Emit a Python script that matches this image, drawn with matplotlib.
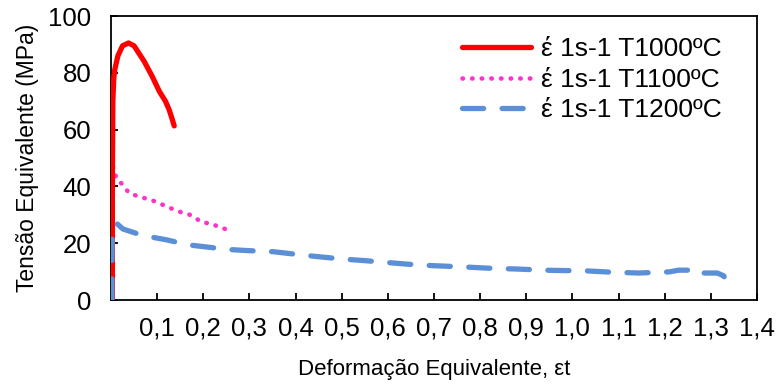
import matplotlib
matplotlib.use("Agg")
import matplotlib.pyplot as plt

plt.rcParams['font.family'] = ['Liberation Sans', 'DejaVu Sans']

# curva a 1000 C
x_1000 = [0.003, 0.003, 0.004, 0.006, 0.008, 0.015, 0.025, 0.038, 0.050,
          0.072, 0.090, 0.105, 0.118, 0.126, 0.132, 0.137]
y_1000 = [0.0, 40.0, 70.0, 78.0, 81.0, 86.0, 89.5, 90.5, 89.5,
          84.0, 78.5, 73.4, 70.0, 67.0, 64.0, 61.3]

# curva a 1100 C
x_1100 = [0.004, 0.008, 0.012, 0.023, 0.040, 0.060, 0.092, 0.120, 0.144,
          0.175, 0.196, 0.220, 0.234, 0.248, 0.256]
y_1100 = [47.0, 45.0, 42.5, 41.0, 37.5, 36.5, 34.9, 33.0, 31.3,
          29.8, 27.4, 26.8, 25.6, 25.0, 22.5]

# curva a 1200 C
x_1200 = [0.002, 0.002, 0.003, 0.012, 0.026, 0.069, 0.120, 0.168, 0.200,
          0.253, 0.295, 0.352, 0.390, 0.440, 0.503, 0.555, 0.583, 0.644,
          0.696, 0.757, 0.818, 0.880, 0.940, 0.965, 1.026, 1.083, 1.144,
          1.210, 1.230, 1.267, 1.270, 1.314, 1.328, 1.336]
y_1200 = [0.0, 15.0, 25.0, 27.0, 25.0, 22.7, 21.2, 19.4, 18.8,
          17.8, 17.4, 17.0, 16.3, 15.4, 14.4, 13.8, 13.4, 12.6,
          12.1, 11.7, 11.2, 10.9, 10.5, 10.4, 10.3, 9.8, 9.5,
          9.9, 10.5, 10.5, 9.5, 9.5, 8.5, 5.8]

x_ticks = [0.1, 0.2, 0.3, 0.4, 0.5, 0.6, 0.7, 0.8, 0.9, 1.0, 1.1, 1.2, 1.3, 1.4]
x_tick_labels = ['0,1', '0,2', '0,3', '0,4', '0,5', '0,6', '0,7', '0,8',
                 '0,9', '1,0', '1,1', '1,2', '1,3', '1,4']
y_ticks = [0, 20, 40, 60, 80, 100]

labels = ['έ 1s-1 T1000ºC', 'έ 1s-1 T1100ºC', 'έ 1s-1 T1200ºC']

fig = plt.figure(figsize=(7.77, 3.85), dpi=100)
# box from x=111..757 px, y=16..300 px
ax = fig.add_axes([111 / 777, 85 / 385, 646 / 777, 284 / 385])

ax.plot(x_1000, y_1000, color='#FF0000', lw=3.8, solid_capstyle='round',
        label=labels[0], zorder=3)
ax.plot(x_1100, y_1100, color='#FF33CC', lw=3.3, linestyle=(0, (0.1, 2.0)),
        dash_capstyle='round', label=labels[1], zorder=2)
ax.plot(x_1200, y_1200, color='#5B8FD6', lw=3.8, linestyle=(0, (4, 3.5)),
        dash_capstyle='round', label=labels[2], zorder=4)

ax.set_xlim(0, 1.4)
ax.set_ylim(0, 100)
ax.set_xticks(x_ticks)
ax.set_xticklabels(x_tick_labels)
ax.set_yticks(y_ticks)
ax.tick_params(direction='in', length=5, width=1.3, labelsize=18.5)
ax.tick_params(axis='x', pad=12)
ax.tick_params(axis='y', pad=14)
for s in ax.spines.values():
    s.set_linewidth(1.3)

ax.set_xlabel('Deformação Equivalente, εt', fontsize=16, labelpad=13)
ax.set_ylabel('Tensão Equivalente (MPa)', fontsize=16.5, labelpad=7)

ax.legend(loc='upper right', frameon=False, fontsize=19, handlelength=2.6,
          handletextpad=0.38, labelspacing=0.25, borderpad=0,
          borderaxespad=0, bbox_to_anchor=(0.945, 0.925))

fig.savefig('out.png', dpi=100)
